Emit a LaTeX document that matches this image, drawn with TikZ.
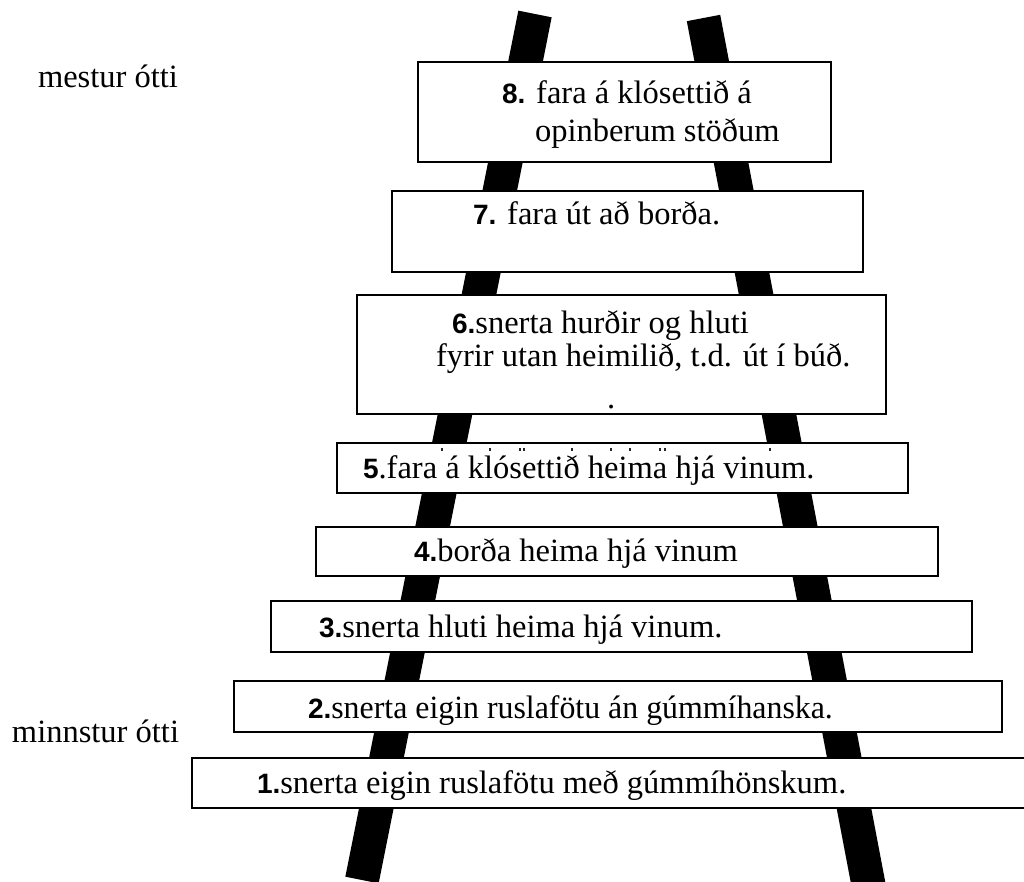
\documentclass[tikz,border=0pt]{standalone}
\usepackage{fontspec}
\setmainfont{Liberation Serif}
\newfontfamily\numfont{Liberation Sans}
\newcommand\nm[1]{\begingroup\numfont\bfseries\fontsize{28}{30}\selectfont#1\endgroup}
\begin{document}
\begin{tikzpicture}[x=1pt,y=-1pt,
  rail/.style={line width=34pt, line cap=butt, black},
  stepbox/.style={draw=black, line width=2.6pt, fill=white, rectangle},
  txt/.style={anchor=base west, inner sep=0pt, outer sep=0pt, font=\rmfamily\fontsize{32.5}{36}\selectfont},
  tick/.style={line width=1.1pt, black!85}
]
\useasboundingbox (0,0) rectangle (1024,882);
\begin{scope}
\clip (0,0) rectangle (1024,882);
% rails
\coordinate (lt) at (535,14);
\coordinate (lb) at (362,880);
\coordinate (rt) at (703.5,18);
\coordinate (rb) at (871.4,900);
\draw[rail] (lt) -- (lb);
\draw[rail] (rt) -- (rb);
% boxes
\draw[stepbox] (418,62) rectangle (831,162);
\draw[stepbox] (392,191) rectangle (863,272);
\draw[stepbox] (357,295) rectangle (886,414);
\draw[stepbox] (337,443) rectangle (908,493);
\draw[stepbox] (316,527) rectangle (938,576);
\draw[stepbox] (271,601) rectangle (972,652);
\draw[stepbox] (234,681) rectangle (1002,732);
\draw[stepbox] (192,758) rectangle (1045,808);
\end{scope}
% remnants of hidden text under the top of box 5
\foreach \x in {442,490,520,524,572,611,630,660,665,770}
  \draw[tick] (\x,447.8) -- (\x,450.6);
% texts
\node[txt] (t8a) at (502,104) {\nm{8.} fara á klósettið á};
\node[txt] (t8b) at (535,142) {opinberum stöðum};
\node[txt] (t7) at (473,225) {\nm{7.} fara út að borða.};
\node[txt] (t6a) at (452,333) {\nm{6.}snerta hurðir og hluti};
\node[txt] (t6b) at (436,366) {fyrir utan heimilið, t.d. út í búð.};
\node[txt] (t6c) at (607,408) {.};
\node[txt] (t5) at (363,478) {\nm{5}.fara á klósettið heima hjá vinum.};
\node[txt] (t4) at (414,561) {\nm{4.}borða heima hjá vinum};
\node[txt] (t3) at (319,637) {\nm{3.}snerta hluti heima hjá vinum.};
\node[txt] (t2) at (308,718) {\nm{2.}\scalebox{0.98}[1]{snerta eigin ruslafötu án gúmmíhanska.}};
\node[txt] (t1) at (257,793) {\nm{1.}snerta eigin ruslafötu með gúmmíhönskum.};
\node[txt] (lmax) at (38,88) {mestur ótti};
\node[txt] (lmin) at (12,742) {minnstur ótti};
\end{tikzpicture}
\end{document}
